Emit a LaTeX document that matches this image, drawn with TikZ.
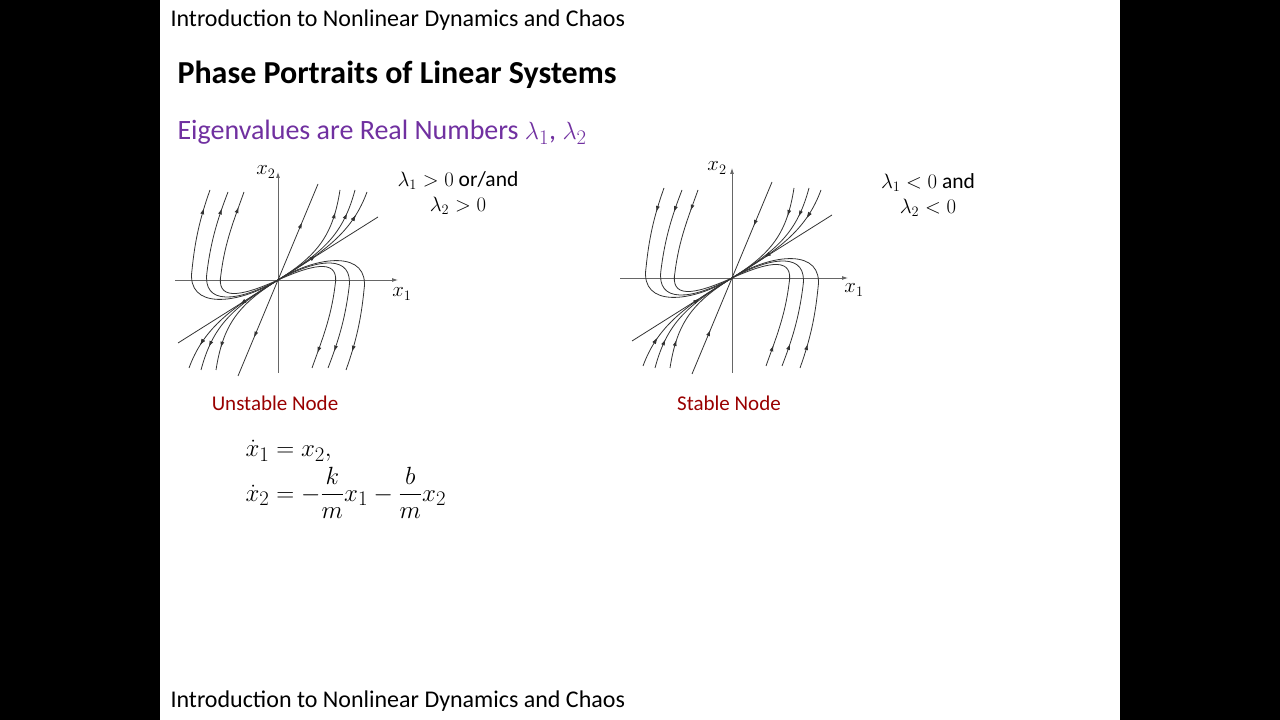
\documentclass[tikz,border=0pt]{standalone}
\usepackage{amsmath}
\usepackage{fontspec}
\setmainfont{Carlito}
\usetikzlibrary{arrows.meta,decorations.markings}
\definecolor{purp}{RGB}{112,48,160}
\definecolor{dred}{RGB}{153,0,0}
\tikzset{
  traj/.style={draw=black!80,line width=0.8pt},
  axis/.style={draw=black!60,line width=0.8pt,-{Latex[length=6pt,width=4pt]}},
  am/.style={postaction={decorate},decoration={markings,mark=at position #1 with {\arrow{\tipstyle}}}},
  lbl/.style={font=\fontsize{21.5}{25}\selectfont,align=center},
  axl/.style={font=\fontsize{20}{22}\selectfont},
}
\newcommand{\tipstyle}{Latex[length=6pt,width=4pt]}
\newcommand{\halfportrait}{%
  \draw[traj,am=0.6] (0,0)--(40,96);
  \draw[traj] (0,0)--(100,63);
  \draw[traj,am=0.8] (0,0) .. controls (40,25) and (55,45) .. (62,90);
  \draw[traj,am=0.8] (0,0) .. controls (45,28) and (65,45) .. (77,90);
  \draw[traj,am=0.8,am=0.35] (0,0) .. controls (50,30) and (75,50) .. (89,88);
  \draw[traj,am=0.9] (0,0) .. controls (-40,-25) and (-92,-30) .. (-86,10) .. controls (-83,40) and (-78,62) .. (-68,90);
  \draw[traj,am=0.9] (0,0) .. controls (-40,-22) and (-76,-26) .. (-71,8) .. controls (-67,40) and (-60,62) .. (-50,88);
  \draw[traj,am=0.9] (0,0) .. controls (-40,-18) and (-62,-20) .. (-57,6) .. controls (-53,38) and (-44,60) .. (-34,88);
}
\begin{document}
\begin{tikzpicture}[x=1pt,y=1pt]
\useasboundingbox (0,0) rectangle (1280,720);
\fill[black] (0,0) rectangle (160,720);
\fill[black] (1120,0) rectangle (1280,720);
\node[anchor=west,font=\fontsize{24}{28}\selectfont] (hdr) at (167,700) {Introduction to Nonlinear Dynamics and Chaos};
\node[anchor=west,font=\fontsize{24}{28}\selectfont] (ftr) at (167,19) {Introduction to Nonlinear Dynamics and Chaos};
\node[anchor=west,font=\bfseries\fontsize{32}{36}\selectfont] (title) at (174,645) {Phase Portraits of Linear Systems};
\node[anchor=west,text=purp,font=\fontsize{28}{32}\selectfont] (sub) at (174,588) {Eigenvalues are Real Numbers $\lambda_1$, $\lambda_2$};
% left portrait
\begin{scope}[shift={(278,440)}]
  \draw[axis] (-103,0)--(120,0);
  \draw[axis] (0,-93)--(0,108);
  \node[axl] (x2a) at (-12,108) {$x_2$};
  \node[axl] (x1a) at (124,-14) {$x_1$};
  \renewcommand{\tipstyle}{Latex[length=6pt,width=4pt]}
  \halfportrait
  \begin{scope}[rotate=180]\halfportrait\end{scope}
\end{scope}
% right portrait
\begin{scope}[shift={(732,442)}]
  \draw[axis] (-112,0)--(116,0);
  \draw[axis] (0,-95)--(0,110);
  \node[axl] (x2b) at (-15,110) {$x_2$};
  \node[axl] (x1b) at (122,-12) {$x_1$};
  \renewcommand{\tipstyle}{Latex[length=6pt,width=4pt,reversed]}
  \halfportrait
  \begin{scope}[rotate=180]\halfportrait\end{scope}
\end{scope}
\node[lbl] (c1) at (458,527) {$\lambda_1>0$ or/and\\$\lambda_2>0$};
\node[lbl] (c2) at (928,525) {$\lambda_1<0$ and\\$\lambda_2<0$};
\node[text=dred,font=\fontsize{21}{25}\selectfont] (n1) at (275,317) {Unstable Node};
\node[text=dred,font=\fontsize{21}{25}\selectfont] (n2) at (729,317) {Stable Node};
\node[anchor=west,font=\fontsize{31}{35}\selectfont] (eq) at (242,245) {$\begin{aligned}\dot x_1 &= x_2,\\[-4pt] \dot x_2 &= -\frac{k}{m}x_1-\frac{b}{m}x_2\end{aligned}$};
\end{tikzpicture}
\end{document}
